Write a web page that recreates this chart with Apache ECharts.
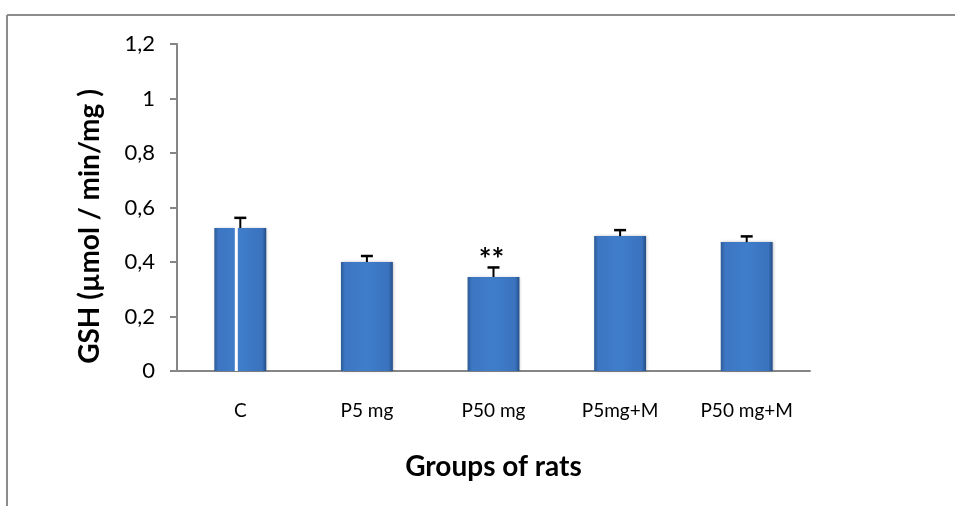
<!DOCTYPE html>
<html lang="en">
<head>
    <meta charset="UTF-8">
    <title>GSH</title>
    <script src="https://cdn.jsdelivr.net/npm/echarts@6/dist/echarts.min.js"></script>
    <style>
        html, body { margin: 0; padding: 0; background: #fff; }
    </style>
</head>
<body>
    <div id="main" style="width: 955px;height:506px;"></div>
    <script type="text/javascript">
        // data
        var groups = ['C', 'P5 mg', 'P50 mg', 'P5mg+M', 'P50 mg+M'];
        var gshMeans = [0.525, 0.40, 0.345, 0.495, 0.473];
        var gshErrors = [0.037, 0.022, 0.035, 0.022, 0.021];
        var signif = ['', '', '**', '', ''];
        var yMin = 0, yMax = 1.2, yStep = 0.2;

        var axisGray = '#868686';
        var fontFam = 'Lato, "Open Sans", sans-serif';

        var chart = echarts.init(document.getElementById('main'));

        var errData = gshMeans.map(function (m, i) { return [i, m, gshErrors[i], signif[i]]; });

        var option = {
            backgroundColor: '#fff',
            animation: false,
            grid: { left: 177, right: 145, top: 44, bottom: 135 },
            graphic: [
                // outer frame (top and left edges only are visible in the source)
                { type: 'line', shape: { x1: 7, y1: 15, x2: 955, y2: 15 }, style: { stroke: '#8c8c8c', lineWidth: 2 } },
                { type: 'line', shape: { x1: 7, y1: 15, x2: 7, y2: 506 }, style: { stroke: '#8c8c8c', lineWidth: 2 } }
            ],
            xAxis: {
                type: 'category',
                data: groups,
                name: 'Groups of rats',
                nameLocation: 'middle',
                nameGap: 82,
                nameTextStyle: { fontFamily: fontFam, fontWeight: 'bold', fontSize: 28, color: '#000' },
                axisLine: { lineStyle: { color: axisGray, width: 2 } },
                axisTick: { length: 7, lineStyle: { color: axisGray, width: 2 } },
                axisLabel: { margin: 30, fontFamily: fontFam, fontSize: 19, color: '#000' }
            },
            yAxis: {
                type: 'value',
                min: yMin,
                max: yMax,
                interval: yStep,
                name: 'GSH (µmol / min/mg )',
                nameLocation: 'middle',
                nameRotate: 90,
                nameGap: 73,
                nameTextStyle: { fontFamily: fontFam, fontWeight: 'bold', fontSize: 28, color: '#000', padding: [0, 38, 0, 0] },
                splitLine: { show: false },
                axisLine: { show: true, lineStyle: { color: axisGray, width: 2 } },
                axisTick: { show: true, length: 7, lineStyle: { color: axisGray, width: 2 } },
                axisLabel: {
                    margin: 22, fontFamily: fontFam, fontSize: 22, color: '#000',
                    formatter: function (v) { return String(Math.round(v * 10) / 10).replace('.', ','); }
                }
            },
            series: [
                {
                    type: 'bar',
                    data: gshMeans,
                    barWidth: '41%',
                    itemStyle: {
                        color: new echarts.graphic.LinearGradient(0, 0, 1, 0, [
                            { offset: 0, color: '#2b5b97' },
                            { offset: 0.08, color: '#3d76c2' },
                            { offset: 0.5, color: '#3f7dcb' },
                            { offset: 0.92, color: '#3a72bd' },
                            { offset: 1, color: '#234d85' }
                        ]),
                        shadowColor: 'rgba(0,0,0,0.25)',
                        shadowBlur: 3,
                        shadowOffsetX: 1
                    }
                },
                {
                    // upper error bars, significance marks, white streak over C
                    type: 'custom',
                    data: errData,
                    z: 5,
                    renderItem: function (params, api) {
                        var i = api.value(0);
                        var top = api.coord([i, api.value(1)]);
                        var cap = api.coord([i, api.value(1) + api.value(2)]);
                        var base = api.coord([i, 0]);
                        var kids = [
                            { type: 'line', shape: { x1: top[0], y1: top[1], x2: cap[0], y2: cap[1] }, style: { stroke: '#000', lineWidth: 2 } },
                            { type: 'line', shape: { x1: cap[0] - 6, y1: cap[1], x2: cap[0] + 6, y2: cap[1] }, style: { stroke: '#000', lineWidth: 2.5 } }
                        ];
                        if (i === 0) {
                            kids.unshift({ type: 'line', shape: { x1: cap[0] - 4, y1: cap[1] + 1, x2: cap[0] - 4, y2: base[1] }, style: { stroke: '#fff', lineWidth: 3 } });
                        }
                        var mark = signif[i];
                        if (mark) {
                            kids.push({ type: 'text', style: { text: mark, x: cap[0] - 2, y: cap[1] + 8, align: 'center', verticalAlign: 'bottom', fontFamily: fontFam, fontWeight: 'bold', fontSize: 30, fill: '#000' } });
                        }
                        return { type: 'group', children: kids };
                    }
                }
            ]
        };

        chart.setOption(option);
    </script>
</body>
</html>
